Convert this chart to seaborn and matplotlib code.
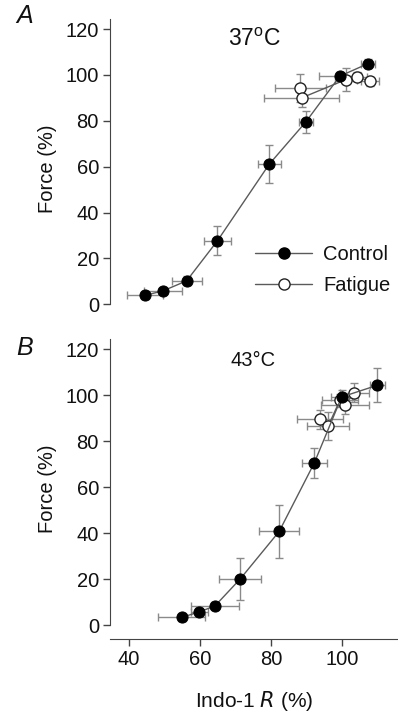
import numpy as np
import pandas as pd
import seaborn as sns
import matplotlib
matplotlib.use("Agg")
import matplotlib.pyplot as plt
from matplotlib.lines import Line2D

# panel A, 37 C
a_ctrl_x = [44.5, 49.5, 56.2, 64.9, 79.5, 89.8, 99.4, 107.4]
a_ctrl_y = [3.9, 5.8, 10.2, 27.7, 61.1, 79.5, 99.5, 105.0]
a_ctrl_xerr = [5.0, 5.4, 4.2, 3.9, 3.2, 2.0, 6.0, 2.0]
a_ctrl_yerr = [1.5, 1.5, 2.0, 6.4, 8.4, 4.6, 2.0, 2.0]
a_fat_x = [88.2, 88.6, 101.1, 104.1, 107.9]
a_fat_y = [94.4, 90.0, 98.0, 99.2, 97.3]
a_fat_xerr = [7.2, 10.7, 3.0, 3.0, 2.5]
a_fat_yerr = [6.0, 4.0, 5.0, 2.0, 2.0]

# panel B, 43 C
b_ctrl_x = [54.8, 59.8, 64.2, 71.3, 82.3, 92.2, 99.9, 110.0]
b_ctrl_y = [3.4, 5.8, 8.4, 20.1, 40.8, 70.6, 99.3, 104.4]
b_ctrl_xerr = [6.6, 2.5, 6.8, 6.0, 5.7, 3.6, 3.0, 2.0]
b_ctrl_yerr = [1.5, 1.5, 1.5, 9.2, 11.6, 6.7, 3.0, 7.3]
b_fat_x = [93.8, 96.1, 99.4, 100.8, 103.5]
b_fat_y = [89.5, 86.6, 97.8, 95.8, 101.2]
b_fat_xerr = [6.6, 6.0, 5.0, 6.8, 4.0]
b_fat_yerr = [4.0, 6.0, 3.0, 4.0, 4.0]

y_ticks = [0, 20, 40, 60, 80, 100, 120]
x_ticks = [40, 60, 80, 100]

sns.set_style("ticks")
plt.rcParams["font.family"] = ["Liberation Sans", "DejaVu Sans"]
plt.rcParams["text.color"] = "#111111"
plt.rcParams["axes.labelcolor"] = "#111111"
plt.rcParams["xtick.color"] = "#444444"
plt.rcParams["ytick.color"] = "#444444"
plt.rcParams["xtick.labelcolor"] = "#111111"
plt.rcParams["ytick.labelcolor"] = "#111111"

W, H = 398, 713
fig = plt.figure(figsize=(W / 100, H / 100), dpi=100)

def fx(px):
    return px / W

def fy(py):
    return 1 - py / H

LINE = "#5a5a5a"
ERR = "#8a8a8a"
FS = 14.5


def draw_panel(ax, cx, cy, cxe, cye, fxv, fyv, fxe, fye):
    ax.errorbar(cx, cy, xerr=cxe, yerr=cye, fmt="none", ecolor=ERR,
                elinewidth=1, capsize=3, capthick=1, zorder=1)
    ax.errorbar(fxv, fyv, xerr=fxe, yerr=fye, fmt="none", ecolor=ERR,
                elinewidth=1, capsize=3, capthick=1, zorder=1)
    sns.lineplot(x=cx, y=cy, ax=ax, color=LINE, lw=1, marker="o", ms=8,
                 markerfacecolor="black", markeredgecolor="black", zorder=3)
    sns.lineplot(x=fxv, y=fyv, ax=ax, color=LINE, lw=1, marker="o", ms=8,
                 markerfacecolor="white", markeredgecolor="#222222",
                 markeredgewidth=1, zorder=2)
    ax.set_xlim(34.6, 115.8)
    ax.set_ylim(-6, 124.5)
    ax.set_yticks(y_ticks)
    ax.tick_params(labelsize=FS, length=5, width=1, pad=3)
    ax.set_ylabel("Force (%)", fontsize=FS, labelpad=6)
    for s in ["top", "right"]:
        ax.spines[s].set_visible(False)
    ax.spines["left"].set_bounds(0, 124.5)
    ax.spines["left"].set_color("#444444")
    ax.spines["bottom"].set_color("#444444")


axA = fig.add_axes([fx(110), fy(318), fx(288), 0.4196])
draw_panel(axA, a_ctrl_x, a_ctrl_y, a_ctrl_xerr, a_ctrl_yerr,
           a_fat_x, a_fat_y, a_fat_xerr, a_fat_yerr)
axA.spines["bottom"].set_visible(False)
axA.set_xticks([])

axB = fig.add_axes([fx(110), fy(639), fx(288), 0.4207])
draw_panel(axB, b_ctrl_x, b_ctrl_y, b_ctrl_xerr, b_ctrl_yerr,
           b_fat_x, b_fat_y, b_fat_xerr, b_fat_yerr)
axB.set_xticks(x_ticks)
axB.set_xlabel("Indo-1 $\\mathit{R}$ (%)", fontsize=FS + 0.5, labelpad=14)

handles = [
    Line2D([], [], color=LINE, lw=1, marker="o", ms=8,
           markerfacecolor="black", markeredgecolor="black"),
    Line2D([], [], color=LINE, lw=1, marker="o", ms=8,
           markerfacecolor="white", markeredgecolor="#222222"),
]
axA.legend(handles, ["Control", "Fatigue"], loc="center left",
           bbox_to_anchor=(0.505, 0.16), frameon=False, fontsize=FS,
           handlelength=2.8, handletextpad=0.55, labelspacing=0.6,
           borderpad=0, borderaxespad=0)

fig.text(fx(254), fy(40), "37$^\\mathregular{o}$C", fontsize=16.5,
         ha="center", va="center")
fig.text(fx(253), fy(361), "43\u00b0C", fontsize=14.5,
         ha="center", va="center")
fig.text(fx(25), fy(16), "A", fontsize=18, style="italic",
         ha="center", va="center")
fig.text(fx(25), fy(348), "B", fontsize=18, style="italic",
         ha="center", va="center")

fig.savefig("out.png", dpi=100)
